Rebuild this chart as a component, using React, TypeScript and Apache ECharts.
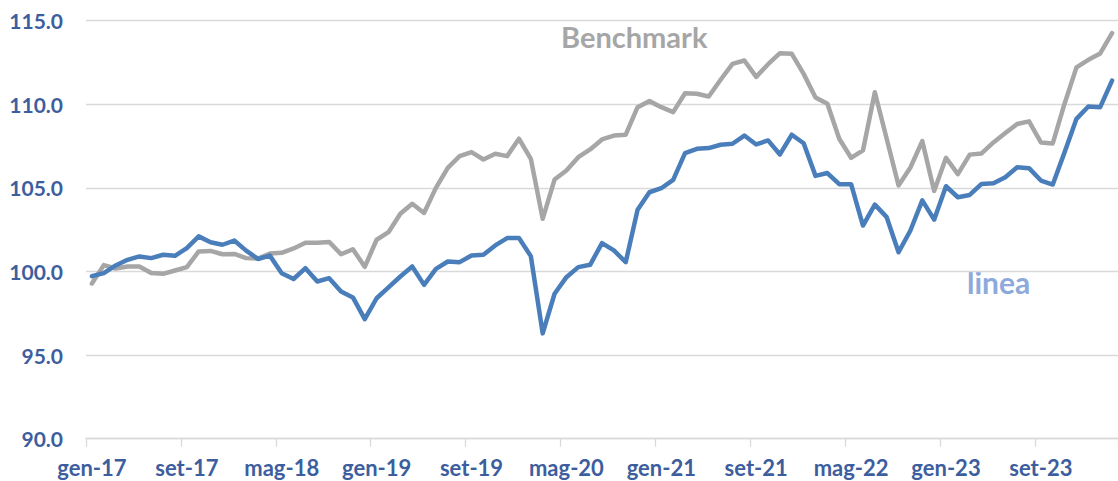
import React, { useEffect, useRef } from "react";
import * as echarts from "echarts";

const monthNames = ["gen", "feb", "mar", "apr", "mag", "giu", "lug", "ago", "set", "ott", "nov", "dic"];
const years = ["17", "18", "19", "20", "21", "22", "23", "24"];
const pointCount = 87;

const categories: string[] = [];
for (const y of years) {
  for (const m of monthNames) {
    if (categories.length < pointCount) categories.push(`${m}-${y}`);
  }
}

const lineaValues = [
  99.72, 99.9, 100.36, 100.7, 100.9, 100.8, 101.0, 100.94, 101.4, 102.1, 101.75, 101.6,
  101.85, 101.25, 100.75, 100.95, 99.9, 99.55, 100.2, 99.4, 99.6, 98.8, 98.45, 97.15,
  98.4, 99.05, 99.7, 100.3, 99.2, 100.16, 100.6, 100.56, 100.96, 101.0, 101.56, 102.0,
  102.0, 100.92, 96.3, 98.67, 99.66, 100.26, 100.4, 101.7, 101.26, 100.56, 103.69, 104.74,
  104.98, 105.48, 107.08, 107.34, 107.38, 107.58, 107.64, 108.13, 107.6, 107.84, 107.0, 108.18,
  107.67, 105.72, 105.89, 105.22, 105.22, 102.75, 104.0, 103.25, 101.15, 102.45, 104.25, 103.1,
  105.1, 104.44, 104.58, 105.24, 105.28, 105.64, 106.24, 106.18, 105.44, 105.2, 107.14, 109.13,
  109.87, 109.83, 111.42,
];

const benchmarkValues = [
  99.28, 100.38, 100.18, 100.3, 100.3, 99.91, 99.86, 100.06, 100.26, 101.2, 101.23, 101.03,
  101.05, 100.8, 100.77, 101.08, 101.12, 101.38, 101.72, 101.72, 101.77, 101.03, 101.33, 100.28,
  101.9, 102.35, 103.45, 104.05, 103.5, 105.0, 106.2, 106.9, 107.14, 106.7, 107.04, 106.9,
  107.94, 106.74, 103.15, 105.5, 106.04, 106.84, 107.3, 107.9, 108.13, 108.18, 109.83, 110.19,
  109.83, 109.53, 110.66, 110.63, 110.47, 111.47, 112.42, 112.62, 111.64, 112.4, 113.06, 113.02,
  111.82, 110.41, 110.03, 107.94, 106.8, 107.24, 110.72, 107.94, 105.14, 106.22, 107.8, 104.82,
  106.8, 105.82, 106.99, 107.06, 107.72, 108.28, 108.82, 108.98, 107.72, 107.66, 110.05, 112.21,
  112.66, 113.04, 114.26,
];

const seriesNames = ["linea", "Benchmark"];

const FONT = "Lato";
const AXIS_TEXT = "#3D5E9E";
const GRID = "#D9D9D9";
const BLUE = "#4A7EBB";
const GRAY = "#A6A6A6";

export default function App() {
  const ref = useRef<HTMLDivElement>(null);
  useEffect(() => {
    document.body.style.margin = "0";
    if (!ref.current) return;
    const chart = echarts.init(ref.current, undefined, { renderer: "svg" });
    chart.setOption({
      animation: false,
      backgroundColor: "#ffffff",
      grid: { left: 86, right: -7.7, top: 20.7, bottom: 42.3, containLabel: false },
      xAxis: {
        type: "category",
        data: categories,
        boundaryGap: true,
        axisLine: { show: true, lineStyle: { color: GRID, width: 1.3 } },
        axisTick: { show: true, interval: 7, length: 8, lineStyle: { color: GRID, width: 1.3 } },
        axisLabel: {
          interval: 7,
          margin: 18,
          color: AXIS_TEXT,
          fontFamily: FONT,
          fontWeight: "bold",
          fontSize: 22,
        },
        splitLine: { show: false },
      },
      yAxis: {
        type: "value",
        min: 90,
        max: 115,
        interval: 5,
        axisLine: { show: false },
        axisTick: { show: false },
        axisLabel: {
          margin: 23,
          color: AXIS_TEXT,
          fontFamily: FONT,
          fontWeight: "bold",
          fontSize: 21,
          formatter: (v: number) => v.toFixed(1),
        },
        splitLine: { show: true, lineStyle: { color: GRID, width: 1.3 } },
      },
      series: [
        {
          name: seriesNames[1],
          type: "line",
          data: benchmarkValues,
          symbol: "none",
          lineStyle: { color: GRAY, width: 4.5, join: "round", cap: "round" },
          z: 2,
        },
        {
          name: seriesNames[0],
          type: "line",
          data: lineaValues,
          symbol: "none",
          lineStyle: { color: BLUE, width: 4.5, join: "round", cap: "round" },
          z: 3,
        },
      ],
      graphic: [
        {
          type: "text",
          left: 561,
          top: 22,
          style: {
            text: seriesNames[1],
            fill: GRAY,
            font: `bold 29px ${FONT}`,
          },
        },
        {
          type: "text",
          left: 967,
          top: 267,
          style: {
            text: seriesNames[0],
            fill: "#8EA9DB",
            font: `bold 30px ${FONT}`,
          },
        },
      ],
    });
    return () => chart.dispose();
  }, []);
  return <div ref={ref} style={{ width: 1118, height: 481 }} />;
}
